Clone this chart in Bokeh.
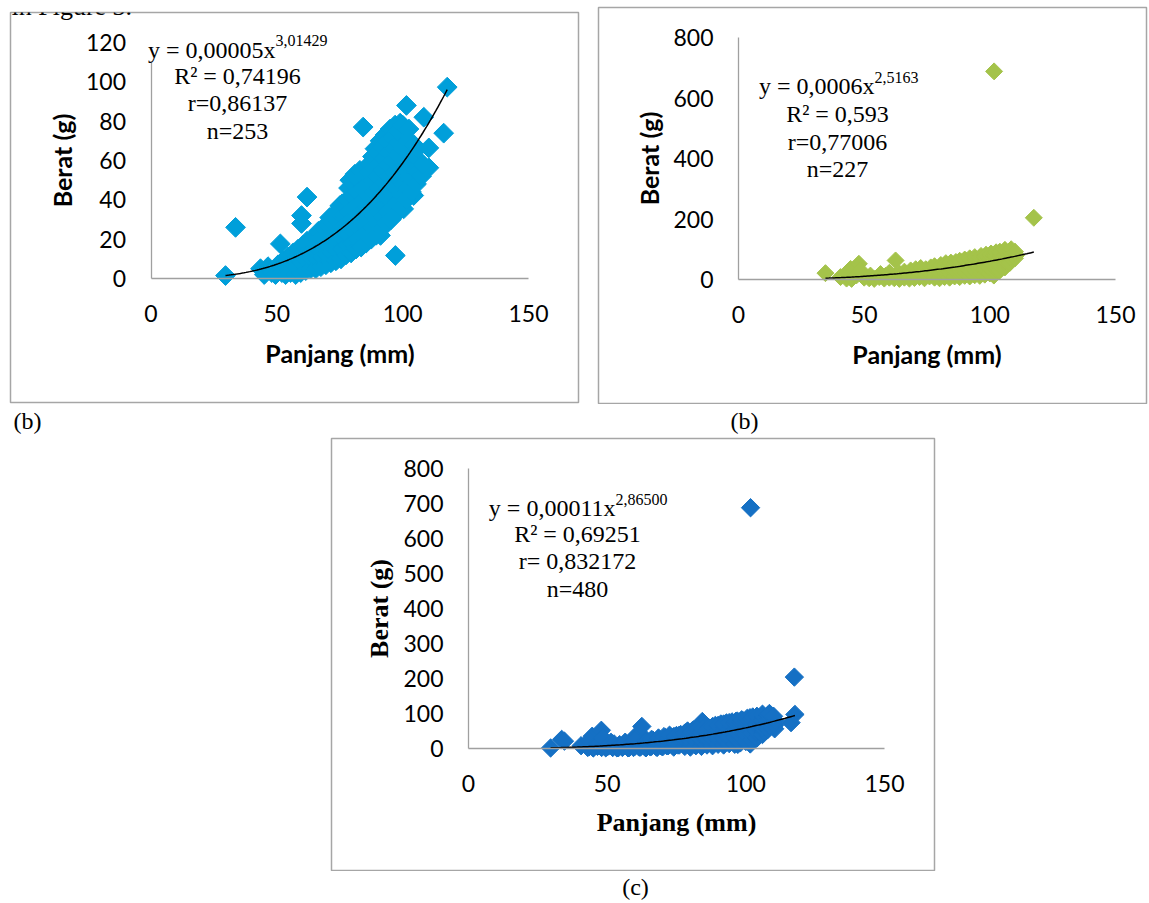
import numpy as np
from bokeh.plotting import figure
from bokeh.models import LinearAxis, FixedTicker, Label, Spacer, Range1d
from bokeh.layouts import row, column
from bokeh.embed import file_html
from bokeh.resources import INLINE

# ---------------- data ----------------
x_ticks = [0, 50, 100, 150]
a_yticks = [0, 20, 40, 60, 80, 100, 120]
b_yticks = [0, 200, 400, 600, 800]
c_yticks = [0, 100, 200, 300, 400, 500, 600, 700, 800]

# panel (a): length (mm) vs weight (g)
a_len = [
    29.6, 33.6, 43.5, 51.4, 59.8, 59.8, 62, 84.3, 97.1, 101.5, 108.4, 110.4, 110.4, 116.3, 117.7, 91.2, 104.4, 100.4,
    45, 46.5, 48, 49.5, 50.5, 52, 52.5, 53.5, 54, 54.5, 55.5, 56, 56.5,
    57.5, 58, 58, 58.5, 59.5, 60, 60.5, 60.5, 61.5, 62, 62.5, 62, 63.5, 64, 64.5, 64,
    65.5, 66, 66.5, 66, 66.5, 67.5, 68, 68.5, 68, 68.5,
    69.5, 70, 70.5, 70, 70.5, 71, 71.5, 72, 72.5, 72, 72.5, 73,
    73.5, 74, 74.5, 74, 74.5, 74, 75, 75.5, 76, 76.5, 76, 76.5, 76,
    77.5, 78, 78.5, 78, 78.5, 78, 78.5, 79, 79.5, 80, 80.5, 80, 80.5, 80, 80.5, 81,
    81.5, 82, 82.5, 82, 82.5, 82, 82.5, 83, 83.5, 84, 84.5, 84, 84.5, 84, 84.5, 85,
    85.5, 86, 86.5, 86, 86.5, 86, 86.5, 87,
    87.5, 88, 88.5, 88, 88.5, 88, 88.5, 88, 89,
    89.5, 90, 90.5, 90, 90.5, 90, 90.5, 90, 91,
    91.5, 92, 92.5, 92, 92.5, 92, 92.5, 92, 93,
    93.5, 94, 94.5, 94, 94.5, 94, 94.5, 94, 95,
    95.5, 96, 96.5, 96, 96.5, 96, 96.5, 96, 97,
    97.5, 98, 98.5, 98, 98.5, 98, 98.5, 98, 99,
    99.5, 100, 100.5, 100, 100.5, 100, 100.5, 100,
    101.5, 102, 102.5, 102, 102.5, 102, 102.5,
    103.5, 104, 104.5, 104, 104.5, 105.5, 106, 106.5, 106, 107.5, 108,
]
a_wt = [
    1.5, 26, 5, 17.6, 32, 28, 41.4, 77, 11.7, 88, 82, 66.4, 56.3, 73.9, 97.3, 21.9, 42.2, 35.4,
    2, 6, 3, 2, 7, 3, 9, 2, 6, 11, 3, 8, 13,
    2, 6, 11, 15, 3, 8, 13, 17, 4, 9, 14, 19, 5, 10, 15, 20,
    5, 10, 15, 20, 24, 6, 11, 16, 21, 26,
    7, 12, 17, 22, 27, 31, 8, 13, 18, 23, 28, 33,
    9, 14, 19, 24, 29, 34, 37, 10, 15, 20, 26, 32, 38,
    12, 17, 22, 28, 34, 40, 46, 50, 13, 18, 24, 30, 36, 42, 48, 53,
    15, 20, 26, 32, 38, 44, 50, 55, 16, 22, 28, 34, 40, 46, 52, 56,
    18, 24, 30, 36, 42, 48, 54, 58,
    20, 26, 32, 38, 44, 50, 56, 62, 66,
    22, 28, 34, 40, 46, 52, 58, 64, 70,
    25, 31, 37, 43, 49, 55, 61, 67, 73,
    28, 34, 40, 46, 52, 58, 64, 70, 76,
    30, 36, 42, 48, 54, 60, 66, 72, 78,
    33, 39, 45, 51, 57, 63, 69, 75, 79,
    36, 42, 48, 54, 60, 66, 72, 78,
    40, 46, 52, 58, 64, 70, 76,
    44, 50, 56, 62, 68, 48, 54, 60, 66, 52, 58,
]

# panel (b)
b_len = [
    34.6, 40.6, 44.6, 47.9, 62.5, 101.7, 117.5, 101.6,
    43, 43.5, 45, 47, 48.5, 50, 52, 52.5, 54, 56, 56.5, 58, 58.5,
    60, 60.5, 60, 62, 62.5, 64, 64.5, 64, 66, 66.5, 66,
    68, 68.5, 68, 68.5, 70, 70.5, 70, 70.5, 72, 72.5, 72, 72.5,
    74, 74.5, 74, 74.5, 76, 76.5, 76, 76.5, 78, 78.5, 78, 78.5, 78,
    80, 80.5, 80, 80.5, 80, 80.5, 82, 82.5, 82, 82.5, 82, 82.5,
    84, 84.5, 84, 84.5, 84, 84.5, 86, 86.5, 86, 86.5, 86, 86.5,
    88, 88.5, 88, 88.5, 88, 88.5, 88, 90, 90.5, 90, 90.5, 90, 90.5, 90,
    92, 92.5, 92, 92.5, 92, 92.5, 92, 94, 94.5, 94, 94.5, 94, 94.5, 94,
    96, 96.5, 96, 96.5, 96, 96.5, 96, 96.5, 98, 98.5, 98, 98.5, 98, 98.5, 98, 98.5,
    100, 100.5, 100, 100.5, 100, 100.5, 100, 100.5, 102, 102.5, 102, 102.5, 102, 102.5, 102, 102.5,
    104, 104.5, 104, 104.5, 104, 104.5, 104, 106, 106.5, 106, 106.5, 106, 106.5, 106,
    108, 108.5, 108, 108.5, 108, 108.5, 110, 110.5, 110,
]
b_wt = [
    21, 8, 35, 52, 63, 688, 204, 13,
    3, 22, 2, 14, 30, 6, 4, 13, 2, 8, 18, 3, 12,
    6, 16, 22, 4, 12, 2, 10, 20, 6, 16, 26,
    3, 12, 22, 30, 5, 15, 25, 34, 8, 18, 28, 38,
    4, 14, 24, 34, 10, 20, 30, 40, 6, 16, 26, 36, 44,
    4, 12, 22, 32, 42, 48, 8, 18, 28, 38, 48, 54,
    6, 16, 26, 36, 46, 56, 10, 20, 30, 40, 50, 58,
    8, 18, 28, 38, 48, 58, 62, 12, 22, 32, 42, 52, 62, 66,
    10, 20, 30, 40, 50, 60, 70, 14, 24, 34, 44, 54, 64, 74,
    12, 22, 32, 42, 52, 62, 72, 78, 16, 26, 36, 46, 56, 66, 76, 82,
    20, 30, 40, 50, 60, 70, 80, 86, 24, 34, 44, 54, 64, 74, 84, 90,
    30, 40, 50, 60, 70, 80, 92, 40, 50, 60, 70, 80, 90, 98,
    55, 65, 75, 85, 95, 100, 70, 80, 92,
]

# panel (c): both groups together
c_len = a_len + b_len
c_wt = a_wt + b_wt

# power trendlines y = k * x^b (coefficient as drawn)
a_fit = (0.000055, 3.01429)
b_fit = (0.00056, 2.5163)
c_fit = (0.00011, 2.86500)

a_eq = ("y = 0,00005x", "3,01429", ["R² = 0,74196", "r=0,86137", "n=253"])
b_eq = ("y = 0,0006x", "2,5163", ["R² = 0,593", "r=0,77006", "n=227"])
c_eq = ("y = 0,00011x", "2,86500", ["R² = 0,69251", "r= 0,832172", "n=480"])

SERIF = "Liberation Serif"
SANS = "Lato"


def make_panel(box, x0px, x150px, y0px, ytop_px, ytop_val, pad_top, pad_bottom, pad_side=2):
    L, T, R, B = box
    sx = (x150px - x0px) / 150.0
    sy = (y0px - ytop_px) / ytop_val
    W = (R - L) + 2 * pad_side
    H = pad_top + (B - T) + pad_bottom
    p = figure(width=W, height=H,
               x_range=Range1d((L - x0px) / sx, (R - x0px) / sx),
               y_range=Range1d((y0px - B) / sy, (y0px - T) / sy),
               x_axis_type=None, y_axis_type=None,
               output_backend="svg", toolbar_location=None,
               min_border_left=pad_side, min_border_right=pad_side,
               min_border_top=pad_top, min_border_bottom=pad_bottom)
    p.outline_line_color = "#a6a6a6"
    p.outline_line_width = 1.5
    p.background_fill_color = "white"
    p.border_fill_color = "white"

    def dx(px):
        return (px - x0px) / sx

    def dy(py):
        return (y0px - py) / sy
    return p, dx, dy


def add_axes(p, yticks, ymax, tfont, tsize):
    xa = LinearAxis(fixed_location=0, bounds=(0, 150), ticker=FixedTicker(ticks=x_ticks))
    ya = LinearAxis(fixed_location=0, bounds=(0, ymax), ticker=FixedTicker(ticks=yticks))
    for ax in (xa, ya):
        ax.axis_line_color = "#a0a0a0"
        ax.axis_line_width = 1.3
        ax.major_tick_line_color = None
        ax.minor_tick_line_color = None
        ax.major_tick_in = 0
        ax.major_tick_out = 0
        ax.minor_tick_in = 0
        ax.minor_tick_out = 0
        ax.major_label_text_font = SANS
        ax.major_label_text_font_size = "23px"
        ax.major_label_text_color = "black"
        ax.axis_label_text_font = tfont
        ax.axis_label_text_font_size = tsize
        ax.axis_label_text_font_style = "bold"
        ax.axis_label_text_color = "black"
    xa.axis_label = "Panjang (mm)"
    ya.axis_label = "Berat (g)"
    xa.major_label_standoff = 26
    ya.major_label_standoff = 25
    xa.axis_label_standoff = 13
    ya.axis_label_standoff = 6
    p.add_layout(xa, "below")
    p.add_layout(ya, "left")


def add_points(p, xs, ys, fit, color, size):
    p.scatter(x=xs, y=ys, marker="square", angle=np.pi / 4, size=size,
              fill_color=color, line_color=color, line_width=1)
    k, b = fit
    tx = np.linspace(min(xs), max(xs), 120)
    p.line(tx, k * tx ** b, line_color="black", line_width=1.5)


def add_eq(p, dx, dy, eq, sup_x, main_y, sup_y, center_x, line_ys, mask=False):
    main, sup, rest = eq
    kw = dict(text_font=SERIF, text_color="black", text_baseline="middle")
    lab = Label(x=dx(sup_x), y=dy(main_y), text=main, text_align="right",
                text_font_size="24px", **kw)
    if mask:
        lab.background_fill_color = "white"
    p.add_layout(lab)
    p.add_layout(Label(x=dx(sup_x), y=dy(sup_y), text=sup, text_align="left",
                       text_font_size="16px", **kw))
    for t, yy in zip(rest, line_ys):
        p.add_layout(Label(x=dx(center_x), y=dy(yy), text=t, text_align="center",
                           text_font_size="24px", **kw))


def strip(top, height):
    """A blank band (page pixel coordinates) that carries the figure captions."""
    s = figure(width=1149, height=height,
               x_range=Range1d(0, 1149), y_range=Range1d(top + height, top),
               x_axis_type=None, y_axis_type=None,
               output_backend="svg", toolbar_location=None, min_border=0)
    s.outline_line_color = None
    s.background_fill_color = "white"
    s.border_fill_color = "white"
    return s


def caption(p, x, y, text, size="24px", align="center", baseline="middle"):
    p.add_layout(Label(x=x, y=y, text=text, text_align=align,
                       text_baseline=baseline, text_font=SERIF,
                       text_font_size=size, text_color="black"))


# ---------------- panel (a) ----------------
pa, dxa, dya = make_panel((10, 12, 578, 402), 150.5, 528, 278, 42, 120, pad_top=12, pad_bottom=2)
add_axes(pa, a_yticks, 120, SANS, "25px")
add_points(pa, a_len, a_wt, a_fit, "#009fda", 14)
add_eq(pa, dxa, dya, a_eq, 275, 49, 40, 237, [75, 102, 130], mask=True)
# page text above the chart, cut by the top edge as in the source image
caption(pa, dxa(11), dya(6), "in Figure 3.", size="26px", align="left", baseline="alphabetic")

# ---------------- panel (b) ----------------
pb, dxb, dyb = make_panel((598, 7, 1146, 403), 738, 1115, 279, 37, 800, pad_top=2, pad_bottom=1)
add_axes(pb, b_yticks, 800, SANS, "25px")
add_points(pb, b_len, b_wt, b_fit, "#a4c34a", 12)
add_eq(pb, dxb, dyb, b_eq, 874, 85, 77, 837, [113, 141, 168])

# captions under the top row (band from y=404 to y=437)
s1 = strip(404, 33)
caption(s1, 27, 420, "(b)")
caption(s1, 744, 420, "(b)")

# ---------------- panel (c) ----------------
pc, dxc, dyc = make_panel((331, 438, 934, 870), 468, 884, 748, 468, 800, pad_top=1, pad_bottom=1)
add_axes(pc, c_yticks, 800, SERIF, "26px")
add_points(pc, c_len, c_wt, c_fit, "#1570c4", 13)
add_eq(pc, dxc, dyc, c_eq, 615, 507, 499, 577, [533, 560, 588])

s2 = strip(871, 32)
caption(s2, 635, 886, "(c)")

row1 = row(Spacer(width=8, height=404), pa, Spacer(width=16, height=404),
           column(Spacer(width=552, height=5), pb))
row2 = row(Spacer(width=329, height=434), pc)
layout = column(row1, s1, row2, s2)

open("out.html", "w").write(file_html(layout, INLINE))
